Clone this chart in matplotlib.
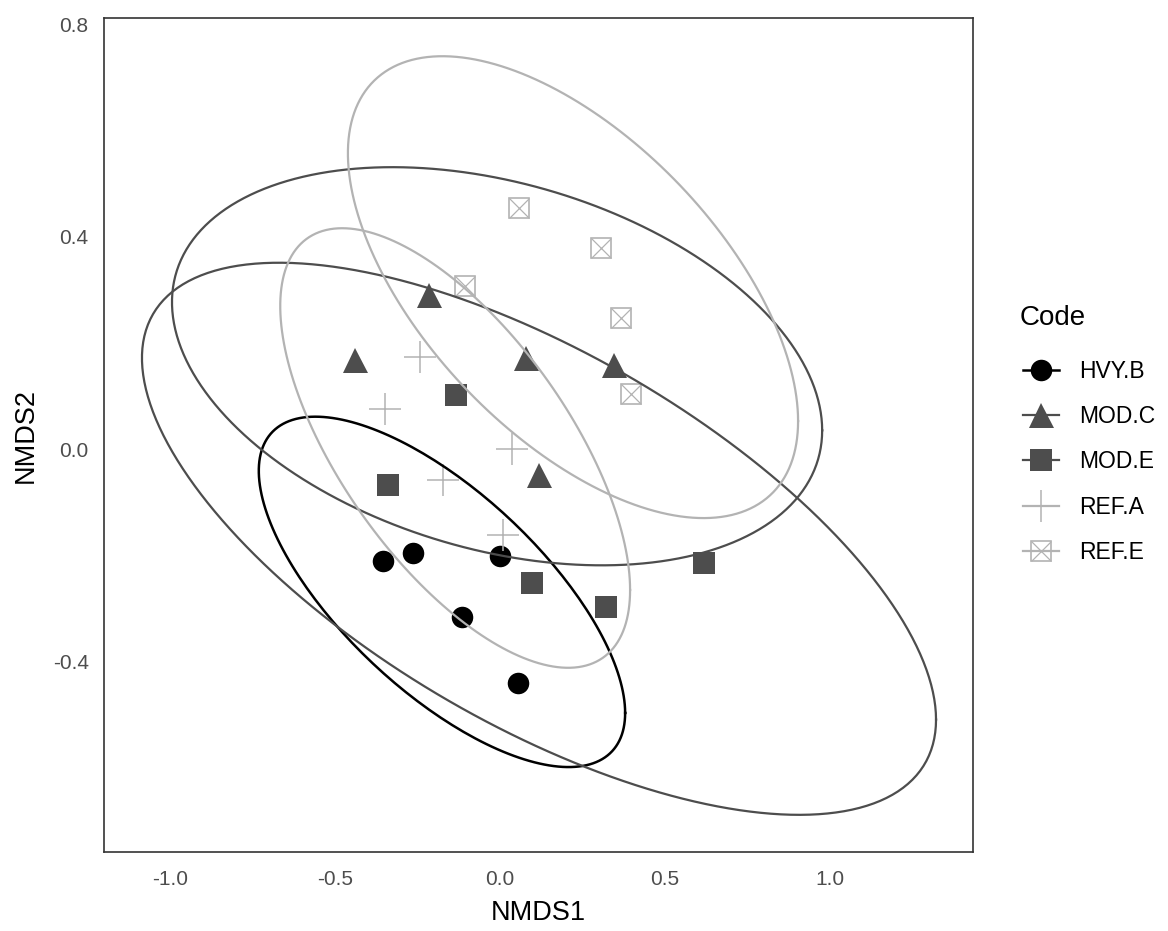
"""
NMDS ordination of sites by Code, with 95% group ellipses.
"""

from __future__ import annotations

import numpy as np
import matplotlib
matplotlib.use("Agg")
import matplotlib.pyplot as plt
from matplotlib.lines import Line2D

# --- data --------------------------------------------------------------
codes = ["HVY.B", "MOD.C", "MOD.E", "REF.A", "REF.E"]

hvy_b_x = [-0.355, -0.264, 0.000, -0.115, 0.055]
hvy_b_y = [-0.211, -0.196, -0.202, -0.316, -0.441]

mod_c_x = [-0.215, -0.439, 0.079, 0.345, 0.118]
mod_c_y = [0.290, 0.168, 0.171, 0.158, -0.049]

mod_e_x = [-0.133, -0.339, 0.097, 0.321, 0.618]
mod_e_y = [0.102, -0.068, -0.252, -0.298, -0.215]

ref_a_x = [-0.242, -0.348, 0.036, -0.173, 0.009]
ref_a_y = [0.173, 0.075, 0.000, -0.058, -0.162]

ref_e_x = [0.058, 0.306, -0.106, 0.367, 0.397]
ref_e_y = [0.454, 0.379, 0.307, 0.247, 0.104]

# ellipse per code: centre, half-width, half-height, x/y correlation
ell_cx = [-0.176, -0.009, 0.118, -0.136, 0.221]
ell_cy = [-0.269, 0.156, -0.169, 0.002, 0.305]
ell_w = [0.555, 0.985, 1.203, 0.530, 0.682]
ell_h = [0.330, 0.375, 0.520, 0.414, 0.435]
ell_r = [-0.691, -0.322, -0.655, -0.646, -0.580]

x_ticks = [-1.0, -0.5, 0.0, 0.5, 1.0]
y_ticks = [-0.4, 0.0, 0.4, 0.8]

BLACK = "#000000"
DARK = "#4D4D4D"
LIGHT = "#B3B3B3"

plt.rcParams["font.family"] = ["Liberation Sans", "DejaVu Sans"]


def ellipse_path(cx, cy, w, h, r, n=200):
    cov = np.array([[w * w, r * w * h], [r * w * h, h * h]])
    chol = np.linalg.cholesky(cov)
    t = np.linspace(0, 2 * np.pi, n)
    circ = np.vstack([np.cos(t), np.sin(t)])
    pts = chol @ circ
    return cx + pts[0], cy + pts[1]


def main() -> None:
    fig = plt.figure(figsize=(11.68, 9.31), dpi=100)
    ax = fig.add_axes([104 / 1168, 1 - 852 / 931, (973 - 104) / 1168, (852 - 18) / 931])

    colors = [BLACK, DARK, DARK, LIGHT, LIGHT]

    ax.plot(hvy_b_x, hvy_b_y, "o", color=BLACK, ms=15.5, mew=0, zorder=2)
    ax.plot(mod_c_x, mod_c_y, "^", color=DARK, ms=18, mew=0, zorder=2)
    ax.plot(mod_e_x, mod_e_y, "s", color=DARK, ms=15.5, mew=0, zorder=2)
    ax.plot(ref_a_x, ref_a_y, "+", color=LIGHT, ms=23, mew=1.1, zorder=2)
    ax.plot(ref_e_x, ref_e_y, "s", mfc="none", mec=LIGHT, ms=15, mew=1.2, zorder=2)
    ax.plot(ref_e_x, ref_e_y, "x", color=LIGHT, ms=15, mew=0.9, zorder=2)

    for i, code in enumerate(codes):
        ex, ey = ellipse_path(ell_cx[i], ell_cy[i], ell_w[i], ell_h[i], ell_r[i])
        lw = 1.8 if code == "HVY.B" else 1.6
        ax.plot(ex, ey, color=colors[i], lw=lw, zorder=3)

    ax.set_xlim(-1.2, 1.433)
    ax.set_ylim(-0.759, 0.812)
    ax.set_xticks(x_ticks)
    ax.set_yticks(y_ticks)
    ax.set_xticklabels([f"{v:.1f}" for v in x_ticks])
    ax.set_yticklabels([f"{v:.1f}" for v in y_ticks])
    ax.tick_params(length=0, labelsize=15, labelcolor="#4D4D4D")
    ax.tick_params(axis="x", pad=13)
    ax.tick_params(axis="y", pad=11)
    for sp in ax.spines.values():
        sp.set_color("#333333")
        sp.set_linewidth(1.2)

    ax.set_xlabel("NMDS1", fontsize=19.5, labelpad=8)
    ax.set_ylabel("NMDS2", fontsize=19.5, labelpad=10)

    handles = [
        Line2D([], [], color=BLACK, marker="o", ms=15.5, mew=0, lw=1.8),
        Line2D([], [], color=DARK, marker="^", ms=18, mew=0, lw=1.6),
        Line2D([], [], color=DARK, marker="s", ms=15.5, mew=0, lw=1.6),
        Line2D([], [], color=LIGHT, marker="+", ms=23, mew=1.1, lw=1.6),
        (
            Line2D([], [], color=LIGHT, marker="s", mfc="none", mec=LIGHT, ms=15, mew=1.2, lw=1.6),
            Line2D([], [], color=LIGHT, marker="x", ms=15, mew=0.9, lw=0),
        ),
    ]
    fig.text(1020 / 1168, 1 - 318 / 931, "Code", fontsize=20, va="center", ha="left")
    fig.legend(
        handles, codes,
        loc="upper left", bbox_to_anchor=(1023 / 1168, 1 - 360 / 931),
        frameon=False, borderpad=0, borderaxespad=0,
        fontsize=16.5, handlelength=1.55, handletextpad=0.92, labelspacing=0.97,
    )

    fig.savefig("out.png", dpi=100)


if __name__ == "__main__":
    main()
